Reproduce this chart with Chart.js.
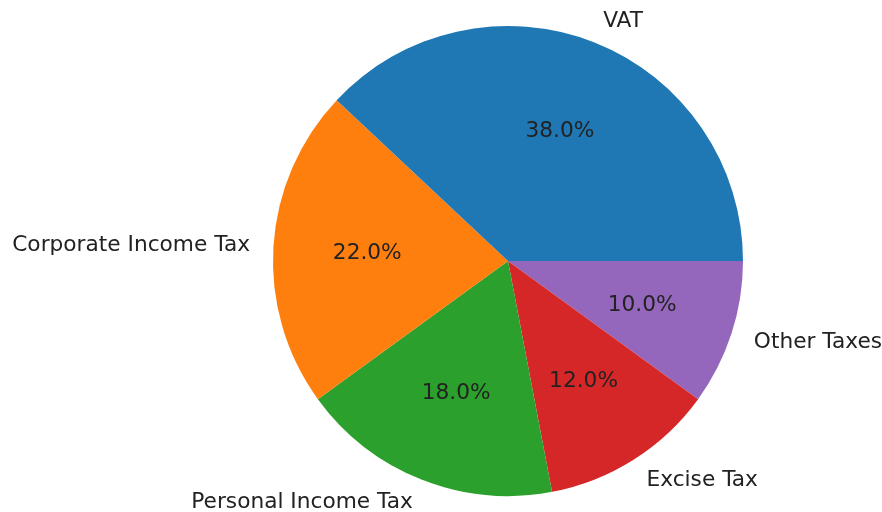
<!DOCTYPE html>
<html>
<head>
<meta charset="utf-8">
<script src="https://cdn.jsdelivr.net/npm/chart.js@4"></script>
<style>
    body { margin: 0; background: #fff; }
    canvas { display: block; }
</style>
</head>
<body>
<canvas id="taxChart" width="882" height="512"></canvas>
<script>
'use strict'

const taxLabels = ['VAT', 'Corporate Income Tax', 'Personal Income Tax', 'Excise Tax', 'Other Taxes'];
const taxShares = [38, 22, 18, 12, 10];
const taxColors = ['#1f77b4', '#ff7f0e', '#2ca02c', '#d62728', '#9467bd'];

// Chart.js goes clockwise, the reference goes counter-clockwise from 3 o'clock,
// so feed the slices in reverse and start at 90 degrees.
const labels = taxLabels.slice().reverse();
const shares = taxShares.slice().reverse();
const colors = taxColors.slice().reverse();

const fontSpec = '21.7px "DejaVu Sans"';

/**
 * Draws the outside labels and the inside percentages like matplotlib does.
 */
const pieText = {
    id: 'pieText',
    afterDatasetsDraw(chart) {
        const ctx = chart.ctx;
        const arcs = chart.getDatasetMeta(0).data;
        const total = shares.reduce((a, b) => a + b, 0);

        ctx.save();
        ctx.font = fontSpec;
        ctx.fillStyle = '#222222';
        ctx.textBaseline = 'middle';

        arcs.forEach((arc, i) => {
            const mid = (arc.startAngle + arc.endAngle) / 2;
            const r = arc.outerRadius;
            const cos = Math.cos(mid);
            const sin = Math.sin(mid);

            // Label at 1.1 radius.
            ctx.textAlign = (cos > 0) ? 'left' : 'right';
            ctx.fillText(labels[i], arc.x + 1.1 * r * cos, arc.y + 1.1 * r * sin + 1);

            // Percentage at 0.6 radius.
            ctx.textAlign = 'center';
            const pct = (shares[i] * 100 / total).toFixed(1) + '%';
            ctx.fillText(pct, arc.x + 0.6 * r * cos, arc.y + 0.6 * r * sin + 1);
        });

        ctx.restore();
    }
};

const ctx = document.getElementById('taxChart').getContext('2d');
const taxChart = new Chart(ctx, {
    type: 'pie',
    data: {
        labels: labels,
        datasets: [{
            data: shares,
            backgroundColor: colors,
            borderWidth: 0
        }]
    },
    options: {
        responsive: false,
        animation: false,
        rotation: 90,
        layout: {
            padding: { top: 26, bottom: 16, left: 273, right: 139 }
        },
        plugins: {
            legend: { display: false },
            tooltip: { enabled: false }
        }
    },
    plugins: [pieText]
});
</script>
</body>
</html>
